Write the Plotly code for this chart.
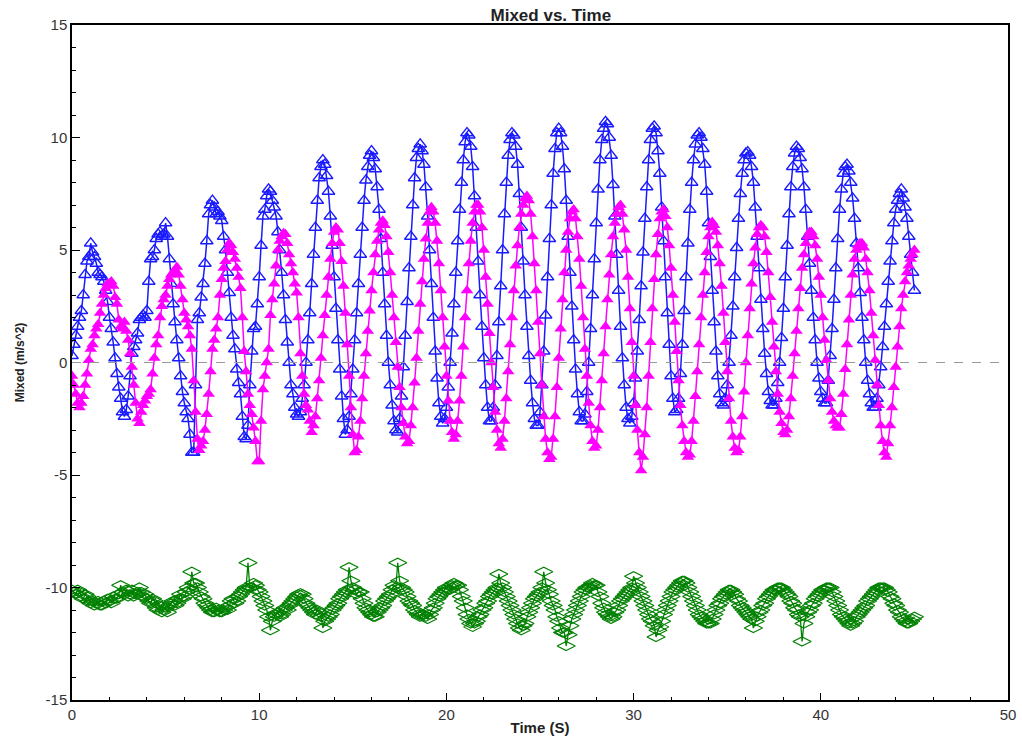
import plotly.graph_objects as go

blue_vals = [
    0.3, 0.8, 1.2, 1.6, 2.0, 2.3, 3.0, 3.9, 4.5, 4.7,
    5.3, 4.9, 4.7, 4.4, 4.0, 3.9, 3.8, 3.6, 3.2, 2.7,
    2.0, 1.5, 0.9, 0.2, -0.5, -1.1, -1.6, -2.2, -2.4, -2.1,
    -1.5, -0.6, 0.4, 0.7, 1.0, 1.3, 1.9, 2.0, 2.1, 2.0,
    2.3, 3.6, 4.6, 4.7, 5.0, 5.5, 5.7, 5.8, 5.6, 5.7,
    6.2, 5.6, 4.6, 3.5, 2.6, 1.8, 1.0, 0.2, -0.6, -1.3,
    -1.8, -2.2, -2.5, -3.2, -4.0, -4.0, -1.0, 1.9, 2.2, 2.9,
    3.5, 4.4, 5.4, 6.6, 7.0, 7.2, 6.9, 6.6, 6.7, 6.5,
    6.3, 5.6, 5.0, 4.0, 3.1, 2.0, 1.2, 0.6, -0.3, -0.9,
    -1.4, -2.4, -3.3, -3.4, -2.8, -1.0, 0.5, 1.5, 1.6, 2.6,
    3.8, 5.2, 6.5, 6.8, 7.4, 7.7, 7.6, 7.2, 6.9, 6.5,
    5.8, 5.0, 4.0, 3.0, 1.9, 0.9, 0.0, -1.0, -1.4, -2.0,
    -2.3, -2.4, -2.2, -1.6, -1.0, 0.0, 1.0, 2.2, 3.5, 4.8,
    6.0, 7.2, 8.2, 8.7, 9.0, 8.8, 8.3, 7.6, 6.5, 5.2,
    3.8, 2.4, 1.0, -0.3, -1.5, -2.5, -3.2, -3.0, -2.4, -1.4,
    -0.3, 1.0, 2.2, 3.5, 4.8, 6.0, 7.2, 8.1, 8.7, 9.2,
    9.4, 9.1, 8.6, 7.8, 6.8, 5.5, 4.0, 2.6, 1.2, 0.0,
    -1.0, -1.9, -2.6, -3.0, -3.1, -2.5, -1.5, -0.2, 1.2, 2.7,
    4.2, 5.6, 7.0, 8.2, 9.1, 9.5, 9.7, 9.4, 8.8, 7.8,
    6.5, 5.0, 3.5, 2.0, 0.5, -0.7, -1.8, -2.4, -2.7, -2.5,
    -2.0, -1.1, 0.0, 1.3, 2.6, 4.0, 5.4, 6.8, 8.0, 9.0,
    9.8, 10.2, 10.1, 9.6, 8.7, 7.4, 6.0, 4.5, 3.0, 1.6,
    0.2, -1.0, -2.0, -2.6, -2.6, -2.0, -1.0, 0.3, 1.8, 3.4,
    5.0, 6.6, 8.0, 9.2, 9.9, 10.2, 10.1, 9.6, 8.8, 7.5,
    6.0, 4.5, 3.0, 1.6, 0.3, -0.8, -1.8, -2.5, -2.8, -2.8,
    -2.2, -1.0, 0.5, 2.1, 3.8, 5.5, 7.0, 8.4, 9.5, 10.2,
    10.4, 10.2, 9.6, 8.6, 7.2, 5.6, 4.0, 2.5, 1.0, -0.3,
    -1.4, -2.2, -2.6, -2.6, -2.3, -1.3, 0.0, 1.5, 3.0, 4.6,
    6.2, 7.7, 9.0, 9.9, 10.4, 10.7, 10.6, 10.0, 9.2, 7.9,
    6.5, 4.8, 3.2, 1.6, 0.2, -1.0, -2.0, -2.5, -2.7, -2.4,
    -1.8, -0.7, 0.5, 1.9, 3.4, 4.9, 6.4, 7.8, 9.0, 9.9,
    10.4, 10.5, 10.2, 9.4, 8.4, 6.9, 5.4, 3.8, 2.2, 0.8,
    -0.6, -1.6, -2.2, -2.1, -1.6, -0.5, 0.8, 2.3, 3.8, 5.3,
    6.8, 8.0, 9.0, 9.7, 10.1, 10.2, 10.0, 9.5, 8.8, 7.6,
    6.2, 4.7, 3.2, 1.8, 0.5, -0.6, -1.4, -1.8, -1.9, -1.6,
    -1.0, 0.0, 1.2, 2.5, 3.8, 5.1, 6.4, 7.5, 8.4, 9.0,
    9.3, 9.35, 9.2, 8.7, 8.0, 6.9, 5.6, 4.2, 2.8, 1.5,
    0.4, -0.5, -1.3, -1.7, -1.9, -1.9, -1.6, -0.9, 0.0, 1.1,
    2.4, 3.8, 5.2, 6.6, 7.8, 8.7, 9.3, 9.6, 9.5, 9.1,
    8.6, 7.8, 6.8, 5.6, 4.4, 3.2, 2.0, 1.0, 0.0, -0.7,
    -1.3, -1.6, -1.8, -1.8, -0.8, 0.3, 1.5, 2.8, 4.2, 5.5,
    6.8, 7.7, 8.4, 8.7, 8.8, 8.5, 8.0, 7.3, 6.4, 5.3,
    4.2, 3.1, 2.0, 1.0, 0.0, -0.8, -1.4, -1.8, -2.0, -2.0,
    -1.6, -1.0, -0.2, 0.7, 1.6, 2.6, 3.6, 4.5, 5.4, 6.2,
    6.8, 7.2, 7.5, 7.7, 7.3, 6.9, 6.4, 5.6, 4.8, 4.0,
    3.2,
]

magenta_vals = [
    -0.6, -1.0, -1.4, -1.8, -2.0, -1.8, -1.5, -1.0, -0.5, 0.1,
    0.6, 0.8, 1.2, 1.5, 1.7, 2.2, 2.6, 3.0, 3.3, 3.5,
    3.5, 3.6, 3.4, 2.9, 2.6, 1.9, 1.6, 1.5, 1.8, 1.4,
    1.0, 0.4, -0.2, -1.0, -1.8, -2.5, -2.7, -2.2, -1.9, -1.7,
    -1.5, -1.4, -1.2, -0.5, 0.2, 0.8, 1.2, 2.0, 2.5, 2.8,
    3.0, 3.4, 3.7, 3.9, 4.0, 4.1, 4.25, 3.9, 3.4, 2.8,
    2.2, 1.9, 1.6, 1.2, 0.6, -0.8, -2.2, -3.4, -3.9, -3.7,
    -3.5, -3.0, -2.3, -1.4, -0.4, 0.6, 1.0, 1.5, 2.0, 3.0,
    3.7, 4.2, 4.5, 5.0, 5.3, 5.2, 4.9, 4.6, 4.2, 3.8,
    3.3, 2.0, 0.5, -0.4, -1.4, -1.9, -2.3, -2.9, -3.5, -4.4,
    -4.4, -2.6, -1.2, -0.6, 0.0, 0.6, 2.1, 2.8, 3.5, 4.3,
    5.0, 5.4, 5.6, 5.75, 5.7, 5.3, 4.8, 4.4, 4.0, 3.5,
    3.1, 2.0, 0.4, -0.6, -1.4, -1.9, -2.1, -2.6, -3.1, -2.8,
    -2.4, -1.6, -0.8, 0.2, 1.2, 2.1, 3.0, 3.8, 4.6, 5.3,
    5.8, 6.0, 5.9, 5.3, 4.5, 3.4, 2.2, 0.8, -0.6, -2.0,
    -3.2, -4.0, -3.9, -3.3, -2.6, -1.6, -0.6, 0.4, 1.4, 2.3,
    3.2, 4.0, 4.8, 5.4, 5.9, 6.2, 6.3, 6.1, 5.6, 4.9,
    4.0, 3.0, 2.0, 0.9, -0.2, -1.1, -2.0, -2.7, -3.3, -3.6,
    -3.5, -2.8, -2.0, -0.9, 0.2, 1.4, 2.6, 3.6, 4.6, 5.5,
    6.2, 6.7, 6.9, 6.7, 6.2, 5.4, 4.4, 3.2, 2.0, 0.7,
    -0.6, -1.7, -2.6, -3.1, -3.4, -3.2, -2.6, -1.7, -0.6, 0.7,
    2.0, 3.2, 4.4, 5.4, 6.2, 6.7, 7.0, 7.0, 6.7, 6.0,
    5.0, 3.8, 2.6, 1.3, 0.0, -1.1, -2.2, -3.0, -3.6, -3.8,
    -3.4, -2.6, -1.6, -0.4, 0.8, 2.0, 3.2, 4.3, 5.2, 6.0,
    6.6, 7.0, 7.3, 7.4, 7.2, 6.6, 5.6, 4.4, 3.2, 1.8,
    0.4, -1.0, -2.4, -3.4, -4.0, -4.3, -4.2, -3.4, -2.4, -1.1,
    0.2, 1.5, 2.8, 4.0, 5.0, 5.8, 6.4, 6.7, 6.8, 6.4,
    5.6, 4.6, 3.4, 2.0, 0.6, -0.6, -1.8, -2.8, -3.5, -3.8,
    -3.7, -3.0, -2.0, -0.8, 0.4, 1.6, 2.8, 3.9, 4.8, 5.6,
    6.2, 6.6, 6.9, 7.0, 6.6, 5.9, 5.0, 3.8, 2.4, 0.9,
    -0.6, -1.9, -3.0, -4.0, -4.8, -4.2, -3.2, -2.0, -0.6, 0.9,
    2.4, 3.7, 4.8, 5.7, 6.4, 6.7, 6.8, 6.5, 6.0, 5.2,
    4.2, 3.0, 1.8, 0.5, -0.8, -1.9, -2.8, -3.5, -4.0, -4.2,
    -4.1, -3.5, -2.6, -1.5, -0.4, 0.8, 2.0, 3.0, 4.0, 4.9,
    5.6, 6.0, 6.25, 6.1, 5.8, 5.2, 4.4, 3.4, 2.2, 0.9,
    -0.4, -1.6, -2.6, -3.3, -3.8, -4.0, -3.9, -3.3, -2.4, -1.3,
    0.0, 1.2, 2.4, 3.5, 4.4, 5.1, 5.7, 6.0, 6.1, 6.0,
    5.6, 4.9, 4.0, 2.9, 1.8, 0.7, -0.4, -1.4, -2.2, -2.7,
    -3.1, -3.2, -3.0, -2.4, -1.6, -0.6, 0.4, 1.4, 2.4, 3.3,
    4.2, 4.8, 5.3, 5.6, 5.8, 5.8, 5.6, 5.2, 4.6, 3.8,
    3.0, 2.0, 1.0, 0.1, -0.8, -1.6, -2.2, -2.6, -2.8, -2.9,
    -2.9, -2.3, -1.4, -0.3, 0.8, 1.9, 3.0, 3.9, 4.6, 5.0,
    5.2, 5.3, 5.3, 5.1, 4.6, 4.0, 3.2, 2.2, 1.2, 0.1,
    -1.0, -1.9, -2.8, -3.5, -4.0, -4.2, -3.6, -2.8, -2.0, -1.1,
    -0.2, 0.7, 1.6, 2.4, 3.0, 3.6, 4.0, 4.3, 4.6, 4.8,
    5.0,
]

green_vals = [
    -10.1, -10.2, -10.3, -10.1, -10.2, -10.4, -10.5, -10.3, -10.4, -10.6,
    -10.7, -10.6, -10.8, -10.7, -10.6, -10.8, -10.8, -10.6, -10.7, -10.5,
    -10.6, -10.7, -10.4, -10.5, -10.5, -10.3, -9.9, -10.2, -10.3, -10.1,
    -10.4, -10.3, -10.1, -10.4, -10.3, -10.2, -10.0, -10.2, -10.4, -10.3,
    -10.5, -10.6, -10.7, -10.5, -10.6, -10.9, -11.0, -10.8, -11.1, -11.0,
    -10.9, -11.1, -10.8, -10.7, -10.6, -10.8, -10.7, -10.5, -10.3, -10.5,
    -10.4, -10.2, -10.0, -10.1, -9.3, -9.8, -9.8, -10.0, -10.2, -10.4,
    -10.5, -10.7, -10.8, -10.9, -11.0, -11.1, -11.1, -10.9, -11.0, -11.1,
    -11.1, -11.0, -10.9, -11.0, -10.8, -10.6, -10.5, -10.7, -10.6, -10.4,
    -10.3, -10.2, -10.1, -10.0, -8.9, -10.0, -10.0, -9.8, -9.9, -10.1,
    -10.2, -10.4, -10.6, -10.8, -11.0, -11.3, -11.9, -11.5, -11.3, -11.2,
    -11.1, -11.3, -11.2, -11.0, -10.9, -11.0, -10.8, -10.7, -10.6, -10.5,
    -10.4, -10.3, -10.25, -10.3, -10.5, -10.7, -10.8, -10.9, -11.0, -11.1,
    -11.2, -11.0, -11.1, -11.3, -11.8, -11.5, -11.4, -11.3, -11.2, -11.0,
    -10.9, -10.8, -10.7, -10.5, -10.4, -10.3, -10.2, -10.1, -9.1, -9.7,
    -10.0, -10.1, -10.3, -10.2, -10.2, -10.5, -10.7, -10.9, -11.0, -11.1,
    -11.2, -11.3, -11.3, -11.1, -11.0, -10.9, -10.8, -10.6, -10.5, -10.4,
    -10.3, -10.1, -9.9, -10.0, -8.9, -9.7, -10.0, -10.1, -10.2, -10.4,
    -10.6, -10.7, -10.8, -11.0, -11.1, -11.2, -11.3, -11.2, -11.2, -11.3,
    -11.4, -11.2, -11.0, -10.9, -10.7, -10.5, -10.4, -10.3, -10.2, -10.1,
    -10.0, -10.1, -10.1, -9.9, -9.8, -9.9, -9.9, -10.1, -10.4, -10.6,
    -10.9, -11.2, -11.4, -11.6, -11.75, -11.6, -11.5, -11.3, -11.2, -11.0,
    -10.9, -10.7, -10.6, -10.4, -10.3, -10.2, -10.1, -10.0, -9.4, -9.8,
    -10.0, -10.2, -10.4, -10.6, -10.8, -11.0, -11.2, -11.4, -11.6, -11.8,
    -11.9, -11.7, -11.6, -11.3, -11.1, -10.9, -10.7, -10.5, -10.4, -10.3,
    -10.2, -10.0, -9.3, -9.8, -10.1, -10.3, -10.6, -10.8, -11.0, -11.3,
    -11.5, -11.8, -12.0, -12.0, -12.6, -12.1, -11.7, -11.4, -11.2, -11.0,
    -10.8, -10.6, -10.4, -10.2, -10.1, -10.0, -10.0, -9.9, -9.8, -9.9,
    -9.9, -10.2, -10.4, -10.7, -10.9, -11.1, -11.2, -11.3, -11.4, -11.3,
    -11.1, -11.0, -10.8, -10.6, -10.5, -10.4, -10.3, -10.2, -10.1, -10.0,
    -9.5, -9.8, -10.0, -10.2, -10.4, -10.6, -10.8, -11.0, -11.2, -11.4,
    -11.5, -11.7, -12.2, -11.9, -11.75, -11.5, -11.2, -11.0, -10.8, -10.6,
    -10.4, -10.2, -10.1, -10.0, -9.9, -9.8, -9.7, -9.7, -9.8, -10.0,
    -10.2, -10.4, -10.6, -10.8, -11.0, -11.2, -11.3, -11.4, -11.5, -11.6,
    -11.6, -11.6, -11.4, -11.2, -11.0, -10.8, -10.7, -10.5, -10.4, -10.3,
    -10.2, -10.1, -10.1, -10.2, -10.3, -10.5, -10.6, -10.8, -10.9, -11.0,
    -11.1, -11.2, -11.3, -11.4, -11.8, -11.5, -11.3, -11.1, -11.0, -10.8,
    -10.7, -10.5, -10.4, -10.3, -10.2, -10.1, -10.1, -10.0, -10.0, -10.0,
    -10.1, -10.2, -10.3, -10.4, -10.6, -10.7, -10.9, -11.0, -11.2, -11.3,
    -12.4, -11.6, -11.3, -11.1, -11.0, -10.8, -10.7, -10.5, -10.4, -10.3,
    -10.2, -10.1, -10.1, -10.0, -10.0, -10.0, -10.2, -10.4, -10.6, -10.8,
    -11.0, -11.2, -11.3, -11.4, -11.5, -11.6, -11.7, -11.6, -11.5, -11.3,
    -11.2, -11.1, -11.0, -10.9, -10.8, -10.6, -10.5, -10.4, -10.3, -10.2,
    -10.1, -10.0, -10.0, -10.0, -10.0, -10.1, -10.2, -10.4, -10.5, -10.7,
    -10.8, -11.0, -11.1, -11.3, -11.4, -11.5, -11.6, -11.6, -11.5, -11.4,
    -11.3,
]

sample_step = 0.1  # seconds between samples


def times(vals):
    return [round(i * sample_step, 2) for i in range(len(vals))]


FONT = "Liberation Sans, Arial, sans-serif"

fig = go.Figure()

fig.add_trace(go.Scatter(
    x=times(blue_vals), y=blue_vals, mode="lines+markers", name="Blue",
    line=dict(color="#1a1aff", width=1.5),
    marker=dict(symbol="triangle-up-open", size=11, color="#1a1aff",
                line=dict(width=1.3, color="#1a1aff")),
))
fig.add_trace(go.Scatter(
    x=times(magenta_vals), y=magenta_vals, mode="lines+markers", name="Magenta",
    line=dict(color="#ff00ff", width=1.5),
    marker=dict(symbol="triangle-up", size=11, color="#ff00ff"),
))
fig.add_trace(go.Scatter(
    x=times(green_vals), y=green_vals, mode="lines+markers", name="Green",
    line=dict(color="#008000", width=1.3),
    marker=dict(symbol="diamond-wide-open", size=13, color="#008000",
                line=dict(width=1.1, color="#008000")),
))

fig.add_hline(y=0, line=dict(color="#999999", width=1.2, dash="dash"))

axis_font = dict(family=FONT, size=15, color="#333333")

fig.update_layout(
    width=1022, height=736,
    paper_bgcolor="white", plot_bgcolor="white",
    margin=dict(l=72, r=14, t=25, b=36, autoexpand=False),
    showlegend=False,
    title=dict(text="<b>Mixed vs. Time</b>", x=0.539, xanchor="center",
               xref="container", y=0.98, yanchor="middle", yref="container",
               font=dict(family=FONT, size=17, color="#222222")),
    xaxis=dict(
        range=[0, 50], tickvals=[0, 10, 20, 30, 40, 50],
        showgrid=False, zeroline=False, automargin=False,
        showline=True, linecolor="black", linewidth=1.5, mirror=True,
        ticks="inside", ticklen=7, tickcolor="black",
        minor=dict(dtick=2, ticks="inside", ticklen=3, tickcolor="black"),
        tickfont=axis_font,
        title=dict(text="<b>Time (S)</b>", standoff=2,
                   font=dict(family=FONT, size=15, color="#222222")),
    ),
    yaxis=dict(
        range=[-15, 15], tickvals=[-15, -10, -5, 0, 5, 10, 15],
        ticktext=["-15", "-10", "-5", "0", "5", "10", "15"],
        showgrid=False, zeroline=False, automargin=False,
        showline=True, linecolor="black", linewidth=1.5, mirror=True,
        ticks="inside", ticklen=8, tickcolor="black",
        minor=dict(dtick=1, ticks="inside", ticklen=4, tickcolor="black"),
        tickfont=axis_font,
        title=dict(text="<b>Mixed (m/s^2)</b>", standoff=18,
                   font=dict(family=FONT, size=12, color="#222222")),
    ),
)

fig.write_html("out.html", config={"displayModeBar": False},
               post_script="document.body.style.margin='0';")
